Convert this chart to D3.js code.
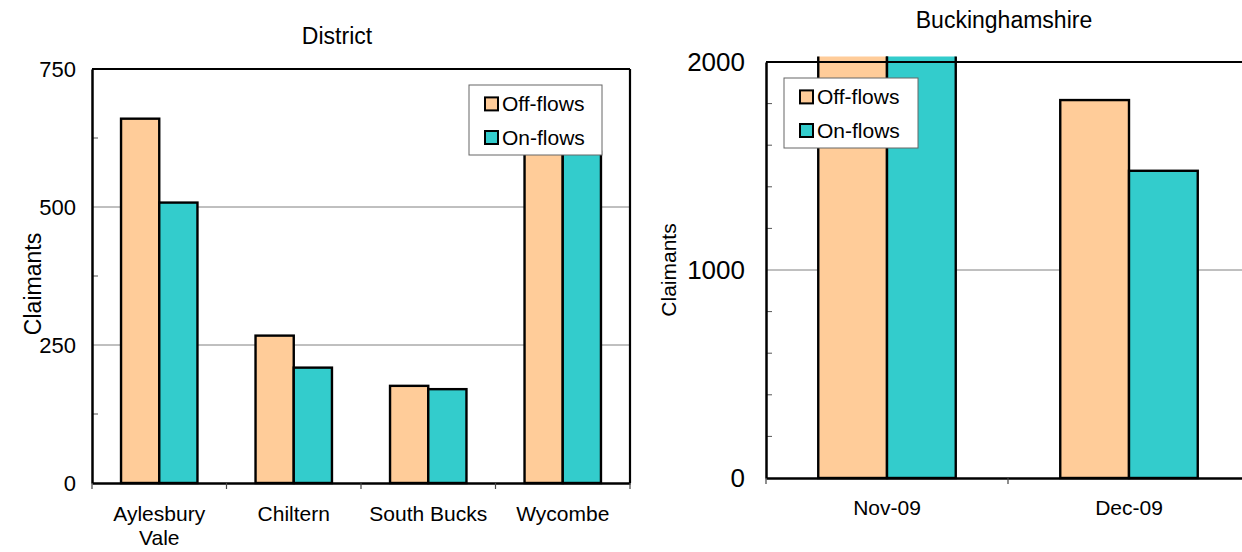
<!DOCTYPE html>
<html><head><meta charset="utf-8">
<script src="https://cdn.jsdelivr.net/npm/d3@7/dist/d3.min.js"></script>
<style>body{margin:0;background:#fff}svg{display:block;font-family:"Liberation Sans",Arial,sans-serif}</style>
</head><body><svg id="c" width="1242" height="552"></svg>
<script>
const series = ["Off-flows", "On-flows"];
const colors = ["#FFCC99", "#33CCCC"];

const districts = ["Aylesbury Vale", "Chiltern", "South Bucks", "Wycombe"];
const districtOff = [660, 267, 176, 710];
const districtOn = [508, 209, 170, 600];
const districtTicks = [0, 250, 500, 750];

const months = ["Nov-09", "Dec-09"];
const bucksOff = [2150, 1817];
const bucksOn = [2120, 1477];
const bucksTicks = [0, 1000, 2000];

const svg = d3.select("#c");

function chart(o) {
  const g = svg.append("g");
  const x = d3.scaleBand().domain(o.cats).range([o.x0, o.x1]);
  const xi = d3.scaleBand().domain(series).range([0, x.bandwidth()]).paddingOuter(0.76);
  const y = d3.scaleLinear().domain([0, o.max]).range([o.y0, o.y1]);
  g.selectAll(".grid").data(o.grid).join("line")
    .attr("x1", o.x0).attr("x2", o.x1).attr("y1", d => y(d)).attr("y2", d => y(d))
    .attr("stroke", "#808080").attr("stroke-width", 1);
  g.selectAll(".minor").data(o.minor).join("line")
    .attr("x1", o.x0).attr("x2", o.x0 + 6).attr("y1", d => y(d)).attr("y2", d => y(d))
    .attr("stroke", "#555").attr("stroke-width", 1);
  const id = "clip" + o.name;
  svg.append("defs").append("clipPath").attr("id", id).append("rect")
    .attr("x", o.x0 - 5).attr("y", y(o.max) - 5.5).attr("width", 2000).attr("height", o.y0 - y(o.max) + 10);
  const data = o.cats.map((c, i) => series.map((s, j) => ({c, s, v: [o.off, o.on][j][i], j}))).flat();
  g.append("g").attr("clip-path", `url(#${id})`).selectAll("rect").data(data).join("rect")
    .attr("x", d => x(d.c) + xi(d.s)).attr("width", xi.bandwidth())
    .attr("y", d => y(d.v)).attr("height", d => y(0) - y(d.v))
    .attr("fill", d => colors[d.j]).attr("stroke", "#000").attr("stroke-width", 2.4);
  g.append("line").attr("x1", o.x0).attr("x2", o.x1).attr("y1", y(o.max)).attr("y2", y(o.max)).attr("stroke", "#000").attr("stroke-width", 2.2);
  g.append("line").attr("x1", o.x1).attr("x2", o.x1).attr("y1", y(o.max)).attr("y2", y(0)).attr("stroke", "#000").attr("stroke-width", 2.2);
  const ya = d3.axisLeft(y).tickValues(o.ticks).tickSize(0).tickPadding(o.tickPad).tickFormat(d3.format("d"));
  const yg = g.append("g").attr("transform", `translate(${o.x0},0)`).call(ya);
  yg.select(".domain").attr("stroke", "#000").attr("stroke-width", 2.5);
  yg.selectAll("text").attr("font-size", o.yFont).attr("fill", "#000").attr("font-family", "Liberation Sans, Arial, sans-serif");
  const xa = d3.axisBottom(x).tickSize(0).tickFormat("");
  const xg = g.append("g").attr("transform", `translate(0,${o.y0})`).call(xa);
  xg.select(".domain").attr("stroke", "#000").attr("stroke-width", 2.5);
  const bounds = o.cats.map(c => x(c)).concat([o.x1]);
  g.selectAll(".bt").data(bounds).join("line")
    .attr("x1", d => d).attr("x2", d => d).attr("y1", o.y0).attr("y2", o.y0 + 6)
    .attr("stroke", "#444").attr("stroke-width", 1.2);
  g.selectAll(".cl").data(o.cats).join("text")
    .attr("x", d => x(d) + x.bandwidth() / 2).attr("y", o.labelY)
    .attr("text-anchor", "middle").attr("font-size", o.xFont)
    .each(function(d) {
      const parts = o.wrap && d === "Aylesbury Vale" ? ["Aylesbury", "Vale"] : [d];
      parts.forEach((p, k) => d3.select(this).append("tspan").attr("x", x(d) + x.bandwidth() / 2).attr("dy", k ? o.xFont * 1.15 : 0).text(p));
    });
  g.append("text").attr("transform", `translate(${o.ytX},${o.ytY}) rotate(-90)`)
    .attr("text-anchor", "middle").attr("dominant-baseline", "central").attr("font-size", o.ytFont).text("Claimants");
  g.append("text").attr("x", o.titleX).attr("y", o.titleY).attr("text-anchor", "middle")
    .attr("dominant-baseline", "central").attr("font-size", o.titleFont).text(o.title);
  const L = o.legend;
  g.append("rect").attr("x", L.x).attr("y", L.y).attr("width", L.w).attr("height", L.h)
    .attr("fill", "#fff").attr("stroke", "#666").attr("stroke-width", 1);
  series.forEach((s, j) => {
    const cy = L.y + L.h * (j === 0 ? 0.27 : 0.75);
    g.append("rect").attr("x", L.x + 16).attr("y", cy - 6.5).attr("width", 13).attr("height", 13)
      .attr("fill", colors[j]).attr("stroke", "#000").attr("stroke-width", 2);
    g.append("text").attr("x", L.x + 33).attr("y", cy).attr("dominant-baseline", "central")
      .attr("font-size", L.font).text(s);
  });
}

chart({name: "d", cats: districts, off: districtOff, on: districtOn, max: 750, ticks: districtTicks,
  grid: [250, 500], minor: [125, 375, 625], x0: 92, x1: 630, y0: 483, y1: 69,
  tickPad: 16, yFont: 22, xFont: 21, labelY: 521, wrap: true, ytX: 33, ytY: 284, ytFont: 23,
  title: "District", titleX: 337, titleY: 36, titleFont: 23,
  legend: {x: 469, y: 85, w: 133, h: 70, font: 21}});

chart({name: "b", cats: months, off: bucksOff, on: bucksOn, max: 2000, ticks: bucksTicks,
  grid: [1000], minor: [200, 400, 600, 800, 1200, 1400, 1600, 1800], x0: 766, x1: 1250, y0: 478, y1: 62,
  tickPad: 21, yFont: 26, xFont: 21, labelY: 515, wrap: false, ytX: 668, ytY: 270, ytFont: 21,
  title: "Buckinghamshire", titleX: 1004, titleY: 20, titleFont: 23,
  legend: {x: 784, y: 78, w: 134, h: 70, font: 21}});
</script></body></html>
